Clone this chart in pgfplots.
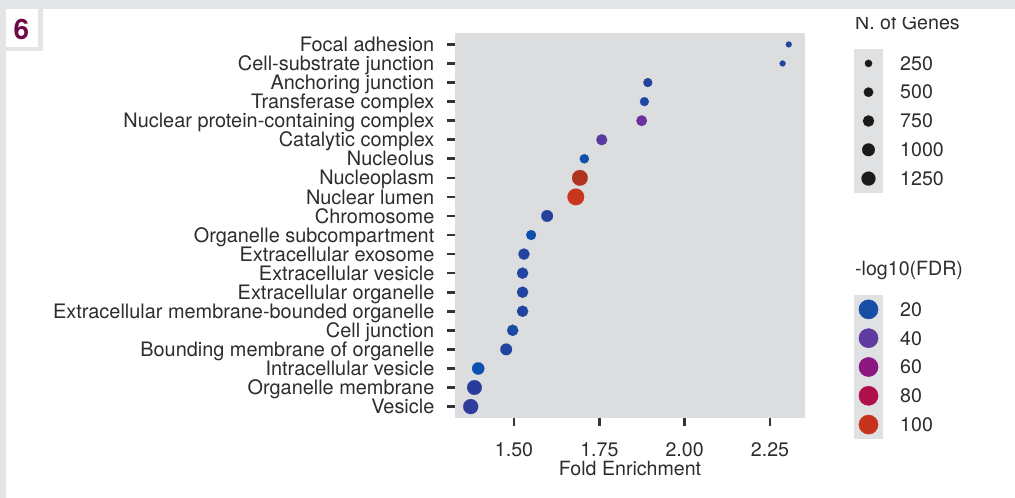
\documentclass[border=0pt]{standalone}
\usepackage{pgfplots}
\pgfplotsset{compat=1.18}
\usepackage{fontspec}
\setmainfont{TeX Gyre Heros}
\definecolor{framegray}{RGB}{228,229,231}
\definecolor{panelgray}{RGB}{220,221,223}
\definecolor{keygray}{RGB}{224,225,227}
\definecolor{txt}{RGB}{45,45,45}
\definecolor{ticksc}{RGB}{51,51,51}
\definecolor{badge}{RGB}{110,10,72}
\definecolor{keyblack}{RGB}{26,26,26}
\newcommand\ff{\fontsize{19.6bp}{23bp}\selectfont}
\newcommand\fy{\fontsize{19.9bp}{23bp}\selectfont}
\pgfplotsset{
  colormap={fdr}{rgb255(10pt)=(5,86,182); rgb255(15pt)=(14,80,174); rgb255(20pt)=(22,78,166); rgb255(27pt)=(42,60,155); rgb255(40pt)=(95,58,160); rgb255(46pt)=(108,46,160); rgb255(60pt)=(140,22,130); rgb255(80pt)=(175,16,76); rgb255(96pt)=(178,50,32); rgb255(100pt)=(198,52,30); rgb255(110pt)=(206,62,28)},
}
\pgfplotstableread{
x y genes fdr
2.305 20 144 24
2.287 19 144 24
1.892 18 432 25
1.882 17 432 23
1.874 16 662 45
1.757 15 708 38
1.706 14 469 15
1.693 13 1625 96
1.681 12 1870 103
1.597 11 821 25
1.550 10 561 16
1.529 9 755 24
1.525 8 755 24
1.525 7 755 24
1.525 6 755 24
1.496 5 755 21
1.477 4 821 24
1.395 3 924 14
1.384 2 1400 27
1.373 1 1466 28
}\maindata
\pgfplotstableread{
x y genes
0.5 5 250
0.5 4 500
0.5 3 750
0.5 2 1000
0.5 1 1250
}\sizedata
\pgfplotstableread{
x y fdr
0.5 5 20
0.5 4 40
0.5 3 60
0.5 2 80
0.5 1 100
}\colordata
\begin{document}
\begin{tikzpicture}
% frame
\fill[framegray] (0,0) rectangle (1015bp,498bp);
\fill[white] (6bp,0) rectangle (1015bp,489bp);
\fill[framegray] (6bp,447bp) rectangle (43bp,489bp);
\fill[white] (6bp,451bp) rectangle (38bp,489bp);
\useasboundingbox (0,0) rectangle (1015bp,498bp);
\node[text=badge, font=\fontsize{28bp}{30bp}\selectfont\bfseries, inner sep=0pt] at (21.5bp,469bp) {6};

\begin{axis}[
  at={(455bp,80bp)}, anchor=south west,
  width=350bp, height=385bp, scale only axis,
  xmin=1.327, xmax=2.3526, ymin=0.4, ymax=20.6,
  axis lines*=left, axis line style={draw=none},
  axis background/.style={fill=panelgray},
  tick align=outside,
  major tick length=7.5bp,
  tick style={draw=ticksc, line width=2.6bp},
  xtick={1.5,1.75,2,2.25}, xticklabels={1.50,1.75,2.00,2.25},
  ytick={1,...,20},
  yticklabels={Vesicle,Organelle membrane,Intracellular vesicle,Bounding membrane of organelle,Cell junction,Extracellular membrane-bounded organelle,Extracellular organelle,Extracellular vesicle,Extracellular exosome,Organelle subcompartment,Chromosome,Nuclear lumen,Nucleoplasm,Nucleolus,Catalytic complex,Nuclear protein-containing complex,Transferase complex,Anchoring junction,Cell-substrate junction,Focal adhesion},
  tick label style={font=\ff, text=txt, inner sep=0pt},
  yticklabel style={font=\fy, anchor=east, xshift=-13bp, text height=14.2bp, text depth=0pt},
  xticklabel style={anchor=north, yshift=-17bp},
  xlabel={Fold Enrichment},
  xlabel style={font=\ff, text=txt, at={(axis description cs:0.5,0)}, anchor=base, yshift=-57bp, inner sep=0pt},
  colormap name=fdr, point meta min=10, point meta max=110,
  clip=false,
]
\addplot[scatter, only marks, mark=*, point meta=\thisrow{fdr},
  mark options={line width=0.1pt},
  scatter/use mapped color={draw=mapped color, fill=mapped color},
  visualization depends on={\thisrow{genes}\as\ngenes},
  scatter/@pre marker code/.append style={/tikz/mark size={0.502*(1.88+0.3427*sqrt(\ngenes))}}]
  table[x=x,y=y] {\maindata};
\end{axis}

% size legend
\begin{scope}
\clip (800bp,0) rectangle (1015bp,480bp);
\node[anchor=base west, font=\ff, text=txt, inner sep=0pt] at (855bp,468bp) {N. of Genes};
\end{scope}
\begin{axis}[
  at={(854bp,305bp)}, anchor=south west,
  width=29bp, height=144bp, scale only axis,
  xmin=0, xmax=1, ymin=0.5, ymax=5.5,
  axis lines*=left, axis line style={draw=none}, ticks=none,
  axis background/.style={fill=keygray}, clip=false,
]
\addplot[scatter, only marks, mark=*, point meta=\thisrow{genes},
  mark options={line width=0.1pt},
  scatter/use mapped color={draw=keyblack, fill=keyblack},
  visualization depends on={\thisrow{genes}\as\ngenes},
  scatter/@pre marker code/.append style={/tikz/mark size={0.502*(1.88+0.3427*sqrt(\ngenes))}}]
  table[x=x,y=y] {\sizedata};
\node[anchor=west, font=\ff, text=txt, inner sep=0pt, xshift=17bp] at (axis cs:1,5) {250};
\node[anchor=west, font=\ff, text=txt, inner sep=0pt, xshift=17bp] at (axis cs:1,4) {500};
\node[anchor=west, font=\ff, text=txt, inner sep=0pt, xshift=17bp] at (axis cs:1,3) {750};
\node[anchor=west, font=\ff, text=txt, inner sep=0pt, xshift=17bp] at (axis cs:1,2) {1000};
\node[anchor=west, font=\ff, text=txt, inner sep=0pt, xshift=17bp] at (axis cs:1,1) {1250};
\end{axis}

% colour legend
\node[anchor=base west, font=\ff, text=txt, inner sep=0pt] at (855bp,222bp) {-log10(FDR)};
\begin{axis}[
  at={(854bp,59bp)}, anchor=south west,
  width=29bp, height=144bp, scale only axis,
  xmin=0, xmax=1, ymin=0.5, ymax=5.5,
  axis lines*=left, axis line style={draw=none}, ticks=none,
  axis background/.style={fill=keygray}, clip=false,
  colormap name=fdr, point meta min=10, point meta max=110,
]
\addplot[scatter, only marks, mark=*, mark size=9.6bp, point meta=\thisrow{fdr},
  scatter/use mapped color={draw=mapped color, fill=mapped color}]
  table[x=x,y=y] {\colordata};
\node[anchor=west, font=\ff, text=txt, inner sep=0pt, xshift=17bp] at (axis cs:1,5) {20};
\node[anchor=west, font=\ff, text=txt, inner sep=0pt, xshift=17bp] at (axis cs:1,4) {40};
\node[anchor=west, font=\ff, text=txt, inner sep=0pt, xshift=17bp] at (axis cs:1,3) {60};
\node[anchor=west, font=\ff, text=txt, inner sep=0pt, xshift=17bp] at (axis cs:1,2) {80};
\node[anchor=west, font=\ff, text=txt, inner sep=0pt, xshift=17bp] at (axis cs:1,1) {100};
\end{axis}
\end{tikzpicture}
\end{document}
